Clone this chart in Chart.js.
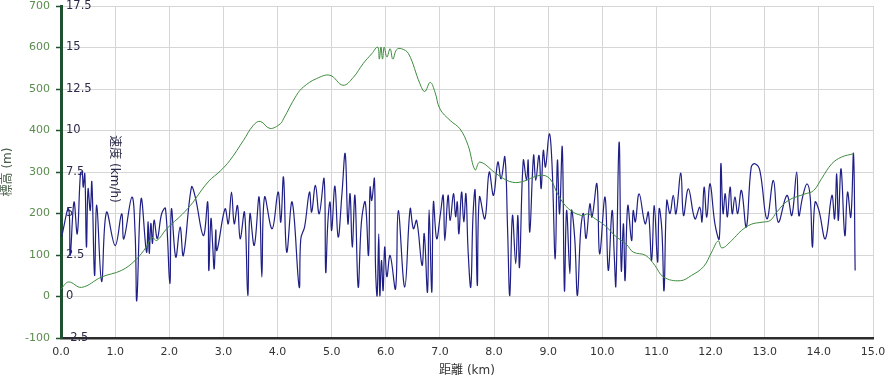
<!DOCTYPE html>
<html>
<head>
<meta charset="utf-8">
<script src="https://cdn.jsdelivr.net/npm/chart.js@4.4.0/dist/chart.umd.min.js"></script>
<style>
html,body{margin:0;padding:0;background:#ffffff;}
canvas{display:block;}
</style>
</head>
<body>
<canvas id="c" width="887" height="382"></canvas>
<script>
// ---- Data ----
const elevDistKm = [0.00,0.14,0.38,0.75,1.12,1.37,1.58,1.68,1.77,1.95,2.24,2.44,2.48,2.73,2.94,3.12,3.37,3.55,3.68,3.86,4.05,4.11,4.35,4.48,4.72,4.97,5.21,5.40,5.58,5.74,5.85,5.88,5.91,5.94,5.97,6.02,6.08,6.13,6.20,6.29,6.42,6.63,6.72,6.82,6.91,7.00,7.19,7.37,7.52,7.65,7.74,8.05,8.29,8.50,8.85,9.03,9.19,9.38,9.62,9.74,9.87,10.05,10.23,10.45,10.57,10.80,10.97,11.13,11.44,11.65,11.87,12.02,12.14,12.21,12.39,12.57,12.75,12.95,13.10,13.22,13.43,13.74,13.90,14.05,14.24,14.42,14.64];
const elevationM = [18,35,22,47,63,87,120,142,135,163,198,227,235,278,302,328,376,412,422,405,416,428,485,505,525,533,509,528,561,585,601,572,601,572,601,577,597,572,595,597,585,513,494,516,492,452,424,404,364,305,324,295,277,276,292,284,243,211,195,199,187,171,147,125,107,99,75,47,38,51,72,107,134,117,135,159,174,179,183,203,231,247,255,284,320,336,344];

const speedDistKm = [0.01,0.14,0.17,0.24,0.30,0.36,0.39,0.41,0.44,0.47,0.50,0.54,0.57,0.62,0.66,0.75,0.84,1.00,1.12,1.16,1.31,1.37,1.40,1.48,1.58,1.61,1.63,1.66,1.69,1.72,1.78,1.86,1.93,2.01,2.04,2.12,2.20,2.26,2.41,2.48,2.63,2.71,2.73,2.77,2.80,2.83,2.86,2.88,3.03,3.09,3.15,3.20,3.26,3.31,3.39,3.45,3.49,3.57,3.66,3.71,3.76,3.90,4.01,4.06,4.11,4.17,4.27,4.40,4.43,4.50,4.59,4.63,4.70,4.77,4.86,4.89,4.93,4.97,5.00,5.06,5.12,5.19,5.25,5.30,5.34,5.38,5.43,5.49,5.55,5.62,5.68,5.71,5.74,5.79,5.81,5.84,5.87,5.89,5.92,5.95,5.98,6.02,6.08,6.18,6.23,6.35,6.45,6.51,6.57,6.67,6.71,6.77,6.80,6.85,6.88,6.94,7.01,7.06,7.09,7.15,7.19,7.25,7.29,7.32,7.35,7.40,7.44,7.48,7.52,7.57,7.61,7.65,7.69,7.73,7.83,7.91,7.99,8.07,8.13,8.20,8.25,8.29,8.34,8.40,8.44,8.47,8.54,8.60,8.63,8.66,8.73,8.77,8.83,8.87,8.91,8.95,9.02,9.07,9.13,9.17,9.21,9.26,9.30,9.34,9.40,9.43,9.49,9.54,9.60,9.65,9.70,9.77,9.81,9.90,9.95,10.05,10.11,10.18,10.22,10.25,10.31,10.35,10.39,10.42,10.47,10.54,10.57,10.61,10.68,10.79,10.85,10.91,10.96,11.02,11.05,11.10,11.14,11.19,11.25,11.31,11.36,11.45,11.50,11.59,11.71,11.80,11.84,11.88,11.93,11.99,12.08,12.16,12.19,12.23,12.27,12.31,12.36,12.40,12.45,12.50,12.57,12.66,12.75,12.82,12.91,13.04,13.16,13.25,13.41,13.50,13.59,13.63,13.70,13.78,13.84,13.88,13.93,14.00,14.12,14.24,14.29,14.33,14.36,14.41,14.48,14.53,14.59,14.64,14.67];
const speedKmh = [3.58,5.28,2.47,5.69,3.78,7.45,7.5,6.59,7.39,2.98,6.49,5.18,6.89,1.27,5.5,0.9,5.08,3.07,4.98,3.47,5.99,3.7,-0.24,5.89,2.67,4.5,2.6,4.4,3.2,4.6,3.5,5.0,5.3,0.77,5.28,2.37,4.18,2.47,6.59,6.0,3.67,5.69,1.57,4.68,3.2,1.67,4.0,2.77,5.28,4.38,6.29,4.38,5.48,3.48,5.08,0.06,4.98,3.07,5.99,1.17,5.99,4.08,6.29,4.48,7.19,2.67,5.69,0.57,3.48,4.2,6.29,5.08,6.69,4.98,7.09,1.47,4.5,5.69,3.98,6.65,3.58,6.19,8.6,4.38,6.19,2.98,6.09,0.57,4.5,5.69,2.47,6.59,5.78,7.09,1.77,0.06,3.78,0.06,2.17,0.36,2.98,1.2,2.47,0.46,5.18,0.57,5.28,4.08,4.58,1.87,3.78,0.26,5.22,0.26,5.69,3.48,5.0,6.09,3.37,6.09,4.58,6.19,4.8,5.7,3.78,6.29,4.5,6.19,2.77,0.57,4.8,6.39,0.66,5.99,4.68,7.49,6.09,8.1,7.09,8.4,4.0,0.06,4.88,1.97,4.88,1.77,8.2,6.99,8.2,3.88,8.5,6.99,8.5,6.5,8.8,7.8,9.8,8.0,2.27,8.2,4.98,9.0,0.36,5.18,1.37,5.18,3.5,0.06,4.0,5.0,3.5,5.58,4.78,6.79,2.57,5.99,1.57,5.18,2.5,0.66,9.3,1.57,4.38,0.96,5.48,3.37,5.18,4.5,6.19,4.38,5.08,2.17,5.48,2.07,5.28,4.0,0.36,5.78,5.0,6.09,4.98,7.43,4.88,6.49,4.68,5.38,4.5,6.59,4.78,6.79,4.38,3.48,8.0,5.0,6.19,4.8,6.59,4.98,6.0,5.0,6.39,4.18,7.79,8.0,7.59,4.68,6.99,4.48,6.09,4.88,7.49,4.88,6.0,6.79,5.99,2.98,5.69,5.2,3.48,6.09,4.68,7.39,4.58,7.69,3.67,6.29,4.78,8.6,1.57];

const distanceRangeKm = [0, 15];
const elevationRangeM = [-100, 700];
const speedRangeKmh = [-2.5, 17.5];
const distanceStepKm = 1;
const elevationStepM = 100;
const speedStepKmh = 2.5;

const xTitle = '距離 (km)';
const elevTitle = '標高 (m)';
const speedTitle = '速度 (km/h)';

// ---- Chart ----
const FONT = "'DejaVu Sans', 'Noto Sans CJK JP', sans-serif";
const elevPoints = elevDistKm.map((d, i) => ({x: d, y: elevationM[i]}));
const speedPoints = speedDistKm.map((d, i) => ({x: d, y: speedKmh[i]}));

const speedTitlePlugin = {
  id: 'speedTitle',
  beforeDatasetsDraw(chart) {
    const ctx = chart.ctx;
    const a = chart.chartArea;
    ctx.save();
    ctx.translate(a.left + 53, (a.top + a.bottom) / 2 - 3);
    ctx.rotate(Math.PI / 2);
    ctx.font = "12px " + FONT;
    ctx.fillStyle = '#2a2a4a';
    ctx.textAlign = 'center';
    ctx.textBaseline = 'middle';
    ctx.fillText(speedTitle, 0, 0);
    ctx.restore();
  }
};

new Chart(document.getElementById('c'), {
  type: 'line',
  data: {
    datasets: [
      {
        label: elevTitle,
        data: elevPoints,
        yAxisID: 'yElev',
        borderColor: '#3d8b3d',
        borderWidth: 1,
        pointRadius: 0,
        tension: 0.4,
        fill: false
      },
      {
        label: speedTitle,
        data: speedPoints,
        yAxisID: 'ySpeed',
        borderColor: '#1f1f86',
        borderWidth: 1.2,
        pointRadius: 0,
        tension: 0.4,
        fill: false
      }
    ]
  },
  options: {
    responsive: false,
    animation: false,
    devicePixelRatio: 1,
    layout: {padding: {top: 6, right: 14, left: 0, bottom: 0}},
    plugins: {legend: {display: false}, tooltip: {enabled: false}},
    scales: {
      x: {
        type: 'linear',
        position: 'bottom',
        min: distanceRangeKm[0],
        max: distanceRangeKm[1],
        afterFit(s) { s.height = 44; s.paddingRight = 0; s.paddingLeft = 0; },
        ticks: {
          stepSize: distanceStepKm,
          callback: v => Number(v).toFixed(1),
          color: '#333333',
          font: {family: FONT, size: 11},
          padding: 8,
          maxRotation: 0,
          autoSkip: false
        },
        grid: {color: '#d6d6d6', lineWidth: 1, drawTicks: false},
        border: {color: '#2b2b2b', width: 2.5},
        title: {display: true, text: xTitle, color: '#333333', font: {family: FONT, size: 12}, padding: {top: 0, bottom: 4}}
      },
      yElev: {
        type: 'linear',
        position: 'left',
        weight: 1,
        min: elevationRangeM[0],
        max: elevationRangeM[1],
        afterFit(s) { s.width = 56; s.paddingTop = 0; s.paddingBottom = 0; },
        ticks: {
          stepSize: elevationStepM,
          color: '#5b8c4e',
          font: {family: FONT, size: 11},
          padding: 6
        },
        grid: {color: '#d6d6d6', lineWidth: 1, drawTicks: false},
        border: {display: false},
        title: {display: true, text: elevTitle, color: '#4a5e4a', font: {family: FONT, size: 12}, padding: {top: 1, bottom: 0}}
      },
      ySpeed: {
        type: 'linear',
        position: 'left',
        weight: 0,
        min: speedRangeKmh[0],
        max: speedRangeKmh[1],
        afterFit(s) { s.width = 5; s.paddingTop = 0; s.paddingBottom = 0; },
        ticks: {
          stepSize: speedStepKmh,
          mirror: true,
          color: '#2a2a4a',
          font: {family: FONT, size: 11.5},
          padding: 5
        },
        grid: {drawOnChartArea: false, drawTicks: true, tickLength: 5, tickColor: '#1f5130', tickWidth: 1.5},
        border: {color: '#1f5130', width: 3}
      }
    }
  },
  plugins: [speedTitlePlugin]
});
</script>
</body>
</html>
